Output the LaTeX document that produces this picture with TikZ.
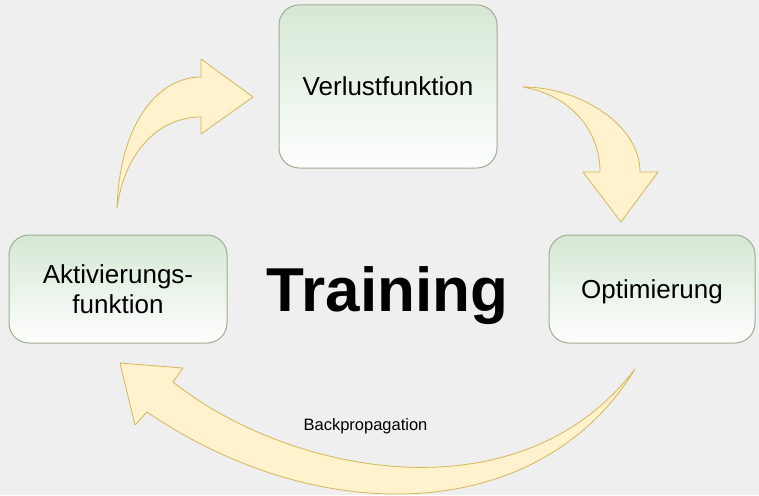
\documentclass[tikz,border=0pt]{standalone}
\usepackage{fontspec}
\setmainfont{Liberation Sans}
\definecolor{bggray}{HTML}{EFEFEF}
\definecolor{boxgreen}{HTML}{D5E8D4}
\definecolor{boxline}{HTML}{9DAE91}
\definecolor{arrowfill}{HTML}{FFF2CC}
\definecolor{arrowline}{HTML}{D6B656}

\begin{document}
\begin{tikzpicture}[x=1pt,y=-1pt,
                   box/.style={draw=boxline,line width=1pt,rounded corners=20pt,top color=boxgreen,bottom color=white!97!boxgreen,align=center,font=\fontsize{26}{30}\selectfont},
                   bigarrow/.style={draw=arrowline,fill=arrowfill,line width=0.8pt,line join=round}]
\fill[bggray] (0,0) rectangle (759,495);
\useasboundingbox (0,0) rectangle (759,495);
\node[box,minimum width=218pt,minimum height=163pt] (verlust) at (388,86.5) {Verlustfunktion};
\node[box,minimum width=218pt,minimum height=108pt] (aktiv) at (118,289) {Aktivierungs-\\funktion};
\node[box,minimum width=206pt,minimum height=108pt,text depth=0pt] (optim) at (652,289) {Optimierung};
\node[anchor=base,font=\fontsize{62}{62}\selectfont\bfseries] (training) at (387.5,311) {Training};
\coordinate (a1tail) at (117,208);
\coordinate (a1tip) at (253,97);
\draw[bigarrow] (a1tail) .. controls (120,120) and (160,77) .. (201,77) -- (201,59) -- (a1tip) -- (201,134) -- (201,117) .. controls (160,117) and (125,150) .. (a1tail) -- cycle;
\coordinate (a2tail) at (523,87);
\coordinate (a2tip) at (621,222);
\draw[bigarrow] (a2tail) .. controls (580,87) and (640,125) .. (640,172) -- (658,172) -- (a2tip) -- (583,172) -- (600,172) .. controls (600,130) and (570,95) .. (a2tail) -- cycle;
\coordinate (a3tail) at (635,369);
\coordinate (a3tip) at (120,363);
\draw[bigarrow] (a3tail) .. controls (540,525) and (320,530) .. (147,412) -- (135,425) -- (a3tip) -- (183,368) -- (173,382) .. controls (290,475) and (520,520) .. (a3tail) -- cycle;
\node[anchor=base,font=\fontsize{16.5}{18}\selectfont] (backprop) at (365.5,430) {Backpropagation};
\end{tikzpicture}
\end{document}
